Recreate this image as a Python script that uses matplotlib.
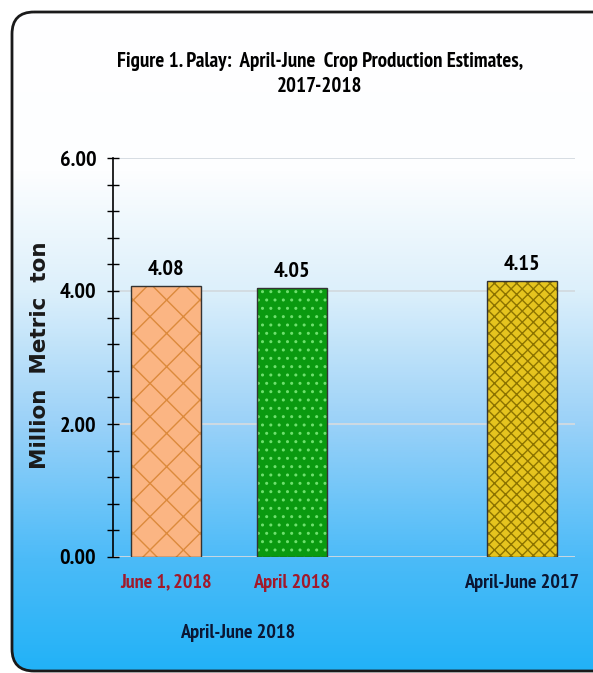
import numpy as np
import matplotlib
matplotlib.use("Agg")
import matplotlib.pyplot as plt
from matplotlib.patches import FancyBboxPatch
from matplotlib.colors import LinearSegmentedColormap
from matplotlib.transforms import blended_transform_factory

# data
categories = ["June 1, 2018", "April 2018", "April-June 2017"]
values = [4.08, 4.05, 4.15]
group_label = "April-June 2018"
yticks = [0, 2, 4, 6]
title = "Figure 1. Palay:  April-June  Crop Production Estimates,\n2017-2018"
ylabel = "Million  Metric  ton"

# layout / style
xpos = [0, 1, 2.825]
fills = ["#FBB583", "#0A9A10", "#E6C41E"]
hatch_cols = ["#DC8A3C", "#6EE06E", "#8C7300"]
hatches = ["x", "..", "xxx"]
label_cols = ["#A1192B", "#A1192B", "#0B1633"]
narrow = ["PT Sans Narrow", "Liberation Sans", "DejaVu Sans"]

W, H = 593, 673
fig = plt.figure(figsize=(W / 100, H / 100), dpi=100)
fig.patch.set_facecolor("white")

# background panel: vertical gradient inside a rounded border
bg = fig.add_axes([0, 0, 1, 1])
bg.set_xlim(0, W)
bg.set_ylim(H, 0)
bg.axis("off")
stops = [(0.0, "#FFFFFF"), (0.24, "#FDFEFF"), (0.42, "#DDF0FB"),
         (0.62, "#9CD2F8"), (0.83, "#4CBBF8"), (1.0, "#22B2F7")]
cmap = LinearSegmentedColormap.from_list("bg", stops)
grad = np.linspace(0, 1, 512)[:, None]
box = FancyBboxPatch((12, 12), 620, 659, boxstyle="round,pad=0,rounding_size=22",
                     facecolor="none", edgecolor="#1a1a1a", linewidth=2, zorder=3)
im = bg.imshow(grad, cmap=cmap, extent=[12, 632, 671, 12], aspect="auto", zorder=1)
bg.add_patch(box)
im.set_clip_path(box)

# main chart
ax = fig.add_axes([113 / W, (H - 557) / H, 462 / W, (557 - 158) / H])
ax.patch.set_alpha(0)
ax.set_xlim(-0.42, -0.42 + 462 / 126)
ax.set_ylim(0, 6)

for x, v, fc, hc, hp in zip(xpos, values, fills, hatch_cols, hatches):
    ax.bar(x, v, width=0.556, color=fc, edgecolor="none", zorder=2)
    ax.bar(x, v, width=0.556, color="none", edgecolor=hc, hatch=hp, linewidth=0, zorder=3)
    ax.bar(x, v, width=0.556, color="none", edgecolor="#333333", linewidth=1.0, zorder=4)
    ax.annotate("%.2f" % v, (x, v), xytext=(0, 5), textcoords="offset points",
                ha="center", va="bottom", fontsize=16, fontweight="bold", family=narrow)

for y in yticks:
    ax.axhline(y, color="#D3DAE0", linewidth=1.3, zorder=1)

ax.set_yticks(yticks)
ax.set_yticklabels(["%.2f" % y for y in yticks], fontsize=16, fontweight="bold", family=narrow)
ax.set_yticks(np.arange(0, 6.01, 0.4), minor=True)
ax.tick_params(axis="y", which="both", direction="inout", length=8, width=1, pad=8)
ax.set_xticks(xpos)
ax.set_xticklabels(categories, fontsize=14.5, fontweight="bold", family=narrow)
for lab, c in zip(ax.get_xticklabels(), label_cols):
    lab.set_color(c)
ax.tick_params(axis="x", length=0, pad=12)
for s in ["top", "right", "bottom"]:
    ax.spines[s].set_visible(False)
ax.spines["left"].set_linewidth(1.2)

trans = blended_transform_factory(ax.transData, ax.transAxes)
ax.text((xpos[0] + xpos[1]) / 2 + 0.07, -0.19, group_label, transform=trans, ha="center",
        va="center", fontsize=14.5, fontweight="bold", family=narrow, color="#0B1633")

fig.text(40 / W, 1 - 355 / H, ylabel, rotation=90, ha="center", va="center",
         fontsize=15.5, fontweight="bold", family=["DejaVu Sans"], color="#1a1a1a")
fig.text(320 / W, 1 - 74 / H, title, ha="center", va="center", fontsize=15,
         fontweight="bold", family=narrow, linespacing=1.45)

fig.savefig("out.png", dpi=100)
